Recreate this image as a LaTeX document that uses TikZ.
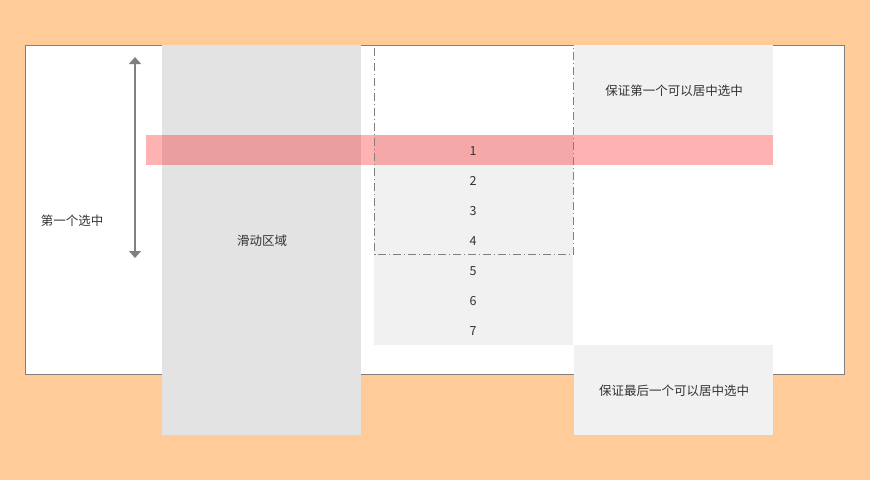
\documentclass[tikz,border=0pt]{standalone}
\usepackage{fontspec}
\newfontfamily\cjk{Noto Sans CJK SC}
\usetikzlibrary{arrows.meta}
\definecolor{fondo}{HTML}{FFCC99}
\definecolor{bordo}{HTML}{808080}
\definecolor{scorri}{HTML}{E3E3E3}
\definecolor{voce}{HTML}{F1F1F1}
\definecolor{testo}{HTML}{333333}
\tikzset{punta/.tip={Triangle[width=12pt,length=7pt]}}
\begin{document}
\begin{tikzpicture}[x=1pt,y=-1pt,
    every node/.style={font=\cjk\fontsize{12.5}{15}\selectfont, text=testo}]

    \fill[fondo] (0,0) rectangle (870,480);
    \draw[fill=white, draw=bordo] (25.5,45.5) rectangle (844.5,374.5);
    \fill[scorri] (162,45) rectangle (361,435);
    \fill[voce] (374,135) rectangle (573,345);
    \fill[voce] (574,45) rectangle (773,135);
    \fill[voce] (574,345) rectangle (773,435);
    \fill[red, opacity=.3] (146,135) rectangle (773,165);
    \draw[bordo, dash pattern=on 8pt off 3pt on 1pt off 3pt] (374.5,48) -- (374.5,254.5) -- (573.5,254.5) -- (573.5,48);

    \coordinate (alto) at (135,57);
    \coordinate (basso) at (135,258);
    \draw[bordo, line width=1.3pt, punta-punta] (alto) -- (basso);

    \node (primo) at (72,221) {第一个选中};
    \node (area) at (262,241) {滑动区域};
    \node (sopra) at (674,91) {保证第一个可以居中选中};
    \node (sotto) at (674,391) {保证最后一个可以居中选中};
    \foreach \n in {1,...,7}
      \node (n\n) at (473,121+30*\n) {\n};

\end{tikzpicture}
\end{document}
